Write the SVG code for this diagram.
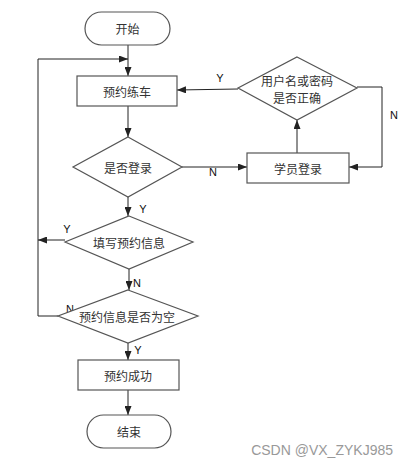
<svg xmlns="http://www.w3.org/2000/svg" width="408" height="466" viewBox="0 0 408 466">
<style>
.s{fill:#fff;stroke:#555;stroke-width:1.2}
.t{font-family:"Noto Sans CJK SC","Liberation Sans",sans-serif;font-size:12px;fill:#333;text-anchor:middle;dominant-baseline:central}
.l{font-family:"Liberation Sans",sans-serif;font-size:11px;fill:#111;text-anchor:middle;dominant-baseline:central}
.c{fill:none;stroke:#222;stroke-width:1}
</style>
<defs>
<marker id="a" markerWidth="9" markerHeight="7" refX="9" refY="3.5" orient="auto" markerUnits="userSpaceOnUse">
<path d="M0,0 L9,3.5 L0,7 Z" fill="#222"/>
</marker>
</defs>
<rect width="408" height="466" fill="#fff"/>
<g id="connectors">
<path class="c" d="M128,45 V76" marker-end="url(#a)"/>
<path class="c" d="M128,106 V137" marker-end="url(#a)"/>
<path class="c" d="M182,167 H247" marker-end="url(#a)"/>
<path class="c" d="M297,153 V120" marker-end="url(#a)"/>
<path class="c" d="M238,89 L177,90" marker-end="url(#a)"/>
<path class="c" d="M357,87 H382 V167 H349" marker-end="url(#a)"/>
<path class="c" d="M128,197 V216" marker-end="url(#a)"/>
<path class="c" d="M65,240 H38" marker-end="url(#a)"/>
<path class="c" d="M129,269 V290" marker-end="url(#a)"/>
<path class="c" d="M58,316 H38 V59 H128" marker-end="url(#a)"/>
<path class="c" d="M128,343 V360" marker-end="url(#a)"/>
<path class="c" d="M128,390 V415" marker-end="url(#a)"/>
<text class="l" x="220" y="78">Y</text>
<text class="l" x="394" y="115">N</text>
<text class="l" x="213" y="172">N</text>
<text class="l" x="143" y="209">Y</text>
<text class="l" x="67" y="229">Y</text>
<text class="l" x="137" y="283">N</text>
<text class="l" x="70" y="309">N</text>
<text class="l" x="138" y="350">Y</text>
</g>
<g id="start">
<rect class="s" x="85" y="12" width="85" height="33" rx="16.5"/>
<text class="t" x="127.5" y="28.5">开始</text>
</g>
<g id="book">
<rect class="s" x="77" y="76" width="100" height="30"/>
<text class="t" x="127" y="91">预约练车</text>
</g>
<g id="logged">
<polygon class="s" points="128,137 182,167 128,197 73,167"/>
<text class="t" x="128" y="167">是否登录</text>
</g>
<g id="login">
<rect class="s" x="247" y="153" width="102" height="30"/>
<text class="t" x="298" y="168">学员登录</text>
</g>
<g id="check">
<polygon class="s" points="297,57 357,88 297,120 238,88"/>
<text class="t" x="297" y="80">用户名或密码</text>
<text class="t" x="297" y="97">是否正确</text>
</g>
<g id="fill">
<polygon class="s" points="129,216 193,242 129,269 65,242"/>
<text class="t" x="129" y="242">填写预约信息</text>
</g>
<g id="empty">
<polygon class="s" points="128,290 198,316 128,343 58,316"/>
<text class="t" x="127" y="316">预约信息是否为空</text>
</g>
<g id="success">
<rect class="s" x="78" y="360" width="101" height="30"/>
<text class="t" x="128" y="375">预约成功</text>
</g>
<g id="end">
<rect class="s" x="87" y="415" width="84" height="33" rx="16.5"/>
<text class="t" x="129" y="431.5">结束</text>
</g>
<text x="393" y="450" font-family="Liberation Sans,sans-serif" font-size="14" fill="#999" text-anchor="end" dominant-baseline="central">CSDN @VX_ZYKJ985</text>
</svg>
